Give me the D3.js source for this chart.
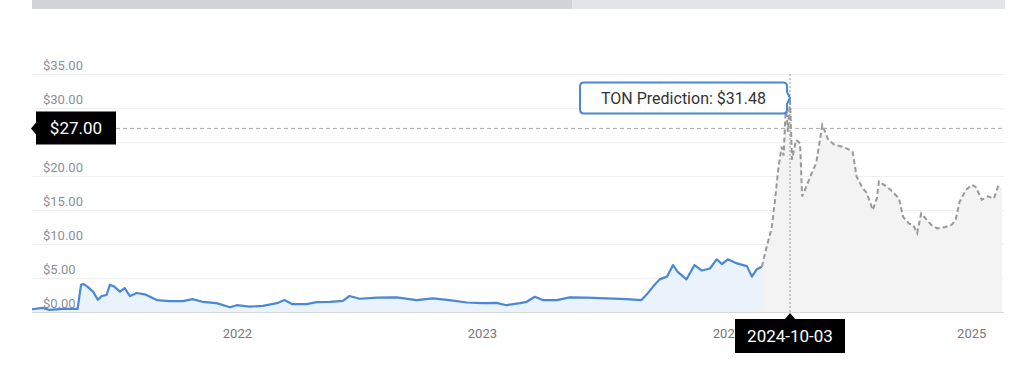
<!DOCTYPE html>
<html>
<head>
<meta charset="utf-8">
<script src="https://cdn.jsdelivr.net/npm/d3@7"></script>
<style>
  body { margin: 0; background: #fff; }
  svg { display: block; font-family: Roboto, "Noto Sans", sans-serif; }
</style>
</head>
<body>
<div id="renderer"></div>
<script>
// history (blue line)
var histDates = ['2021-03-01','2021-03-17','2021-03-27','2021-04-16','2021-05-08','2021-05-13','2021-05-17','2021-05-23',
  '2021-05-31','2021-06-07','2021-06-13','2021-06-20','2021-06-25','2021-07-02','2021-07-10','2021-07-17','2021-07-25',
  '2021-08-04','2021-08-16','2021-09-03','2021-09-22','2021-10-12','2021-10-26','2021-11-10','2021-12-01','2021-12-21',
  '2021-12-31','2022-01-19','2022-02-08','2022-03-01','2022-03-12','2022-03-24','2022-04-14','2022-04-29','2022-05-19',
  '2022-06-07','2022-06-17','2022-07-02','2022-07-28','2022-08-26','2022-09-25','2022-10-19','2022-11-13','2022-12-09',
  '2023-01-01','2023-01-22','2023-02-06','2023-02-26','2023-03-08','2023-03-20','2023-04-01','2023-04-22','2023-05-11',
  '2023-06-05','2023-07-05','2023-08-04','2023-08-26','2023-09-03','2023-09-12','2023-09-22','2023-10-03','2023-10-12',
  '2023-10-19','2023-11-01','2023-11-13','2023-11-24','2023-12-06','2023-12-16','2023-12-24','2024-01-03','2024-02-12',
  '2024-03-27','2024-04-18','2024-05-10','2024-06-01'];
var histValues = [0.4,0.6,0.3,0.45,0.45,4.0,4.1,3.7,
  3.0,1.8,2.35,2.5,4.0,3.7,3.0,3.5,2.35,
  2.8,2.6,1.75,1.6,1.6,1.9,1.5,1.3,0.7,
  1.0,0.8,0.9,1.3,1.75,1.15,1.15,1.45,1.5,
  1.65,2.35,1.95,2.1,2.15,1.75,2.0,1.75,1.4,
  1.3,1.35,1.0,1.3,1.5,2.25,1.75,1.75,2.15,
  2.1,2.0,1.9,1.75,2.6,3.7,4.8,5.2,6.9,
  5.9,4.8,6.9,6.1,6.4,7.75,7.05,7.75,7.15,
  6.75,5.2,6.3,6.65];

// prediction (grey dashed line)
var predDates = ['2024-06-01','2024-06-22','2024-07-14','2024-07-29','2024-08-12','2024-08-27','2024-09-05','2024-09-15',
  '2024-09-24','2024-10-03','2024-10-04','2024-10-06','2024-10-08','2024-10-09','2024-10-11','2024-10-14','2024-10-16',
  '2024-10-19','2024-10-22','2024-10-25','2024-10-29','2024-11-02','2024-11-03','2024-11-05','2024-11-08','2024-11-10',
  '2024-11-13','2024-11-15','2024-11-16','2024-11-20','2024-11-22','2024-11-26','2024-11-28','2024-12-01','2024-12-03',
  '2024-12-05','2024-12-07','2024-12-09','2024-12-12','2024-12-15','2024-12-19','2024-12-22','2024-12-24','2024-12-26',
  '2024-12-29','2025-01-01','2025-01-03','2025-01-06','2025-01-09','2025-01-12','2025-01-14','2025-01-16'];
var predValues = [6.65,9.6,12.3,16.5,20.9,24.3,23.0,30.7,
  26.5,31.48,22.4,25.3,24.8,17.0,18.4,20.6,21.9,
  27.5,25.3,24.6,24.3,23.8,23.6,19.9,18.2,17.5,
  15.0,16.7,19.2,18.4,17.9,16.7,14.0,13.0,12.8,
  11.6,14.5,13.8,12.8,12.3,12.5,12.8,13.5,16.2,
  17.9,18.7,18.4,16.5,17.0,16.7,18.4,18.2];

var yTicks = [0, 5, 10, 15, 20, 25, 30, 35];
var xTickYears = ['2022', '2023', '2024', '2025'];

var hoverDate = '2024-10-03';
var hoverValue = 31.48;
var hoverPrice = 27.00;
var tooltipLabel = 'TON Prediction: ';

// x domain breaks (the source chart is not linear in time around the hover point)
var xDomain = ['2021-03-01', '2024-01-01', '2024-10-03', '2025-01-17'];

var width = 1024, height = 366;
var parse = d3.timeParse('%Y-%m-%d');

var svg = d3.select('#renderer').append('svg')
    .attr('width', width)
    .attr('height', height);

var x = d3.scaleTime()
    .domain(xDomain.map(parse))
    .range([32, 727.4, 790, 1004]);
var y = d3.scaleLinear().domain([0, 35]).range([312, 74]);

var hist = histDates.map(function(d, i){ return {date: parse(d), value: histValues[i]}; });
var pred = predDates.map(function(d, i){ return {date: parse(d), value: predValues[i]}; });

// top scroll bar
svg.append('rect').attr('x', 32).attr('y', 0).attr('width', 540).attr('height', 9).attr('fill', '#d2d3d9');
svg.append('rect').attr('x', 572).attr('y', 0).attr('width', 433).attr('height', 9).attr('fill', '#e3e4e9');

// grid
svg.append('g').selectAll('line')
    .data(yTicks.filter(function(d){ return d > 0; }))
    .enter().append('line')
    .attr('x1', 32).attr('x2', 1004)
    .attr('y1', function(d){ return y(d) + 0.5; })
    .attr('y2', function(d){ return y(d) + 0.5; })
    .attr('stroke', '#efefef');

// areas
var area = d3.area()
    .x(function(d){ return x(d.date); })
    .y0(y(0))
    .y1(function(d){ return y(d.value); });
var line = d3.line()
    .x(function(d){ return x(d.date); })
    .y(function(d){ return y(d.value); });

svg.append('path').datum(hist).attr('d', area).attr('fill', '#eaf2fc');
svg.append('path').datum(pred).attr('d', area).attr('fill', '#f3f3f3');

// baseline
svg.append('line')
    .attr('x1', 32).attr('x2', 1004)
    .attr('y1', y(0) + 0.5).attr('y2', y(0) + 0.5)
    .attr('stroke', '#d8d8d8');

var hy = y(hoverPrice);

// y labels (the one under the price box is hidden, as in the source)
svg.append('g').selectAll('text')
    .data(yTicks.filter(function(d){ return Math.abs(y(d) - 4 - hy) > 17; }))
    .enter().append('text')
    .attr('x', 43)
    .attr('y', function(d){ return y(d) - 4; })
    .attr('font-size', 13)
    .attr('fill', '#8b9099')
    .text(function(d){ return '$' + d.toFixed(2); });

// x axis labels
svg.append('g').selectAll('text')
    .data(xTickYears)
    .enter().append('text')
    .attr('x', function(d){ return x(parse(d + '-01-01')); })
    .attr('y', 338)
    .attr('text-anchor', 'middle')
    .attr('font-size', 13)
    .attr('fill', '#777')
    .text(function(d){ return d; });

// lines
svg.append('path').datum(hist).attr('d', line)
    .attr('fill', 'none').attr('stroke', '#4a88d6').attr('stroke-width', 2.2)
    .attr('stroke-linejoin', 'round');
svg.append('path').datum(pred).attr('d', line)
    .attr('fill', 'none').attr('stroke', '#999').attr('stroke-width', 2)
    .attr('stroke-dasharray', '5,3');

// crosshair
var hx = x(parse(hoverDate));
svg.append('line')
    .attr('x1', 116).attr('x2', 1004)
    .attr('y1', hy).attr('y2', hy)
    .attr('stroke', '#aaa').attr('stroke-dasharray', '4,3');
svg.append('line')
    .attr('x1', hx).attr('x2', hx)
    .attr('y1', y(35)).attr('y2', y(0))
    .attr('stroke', '#999').attr('stroke-dasharray', '2,2');

// price label on the left
svg.append('path')
    .attr('d', 'M36,' + (hy - 17) + 'H116V' + (hy + 16) + 'H36V' + (hy + 6) + 'L31,' + hy + 'L36,' + (hy - 6) + 'Z')
    .attr('fill', '#000');
svg.append('text')
    .attr('x', 76).attr('y', hy + 6)
    .attr('text-anchor', 'middle')
    .attr('font-size', 17)
    .attr('fill', '#fff')
    .text('$' + hoverPrice.toFixed(2));

// date label at the bottom
svg.append('path')
    .attr('d', 'M' + (hx - 55) + ',319H' + (hx - 5) + 'L' + hx + ',313L' + (hx + 5) + ',319H' + (hx + 55) + 'V353H' + (hx - 55) + 'Z')
    .attr('fill', '#000');
svg.append('text')
    .attr('x', hx).attr('y', 342)
    .attr('text-anchor', 'middle')
    .attr('font-size', 17)
    .attr('fill', '#fff')
    .text(hoverDate);

// tooltip
var py = y(hoverValue);
var tw = 207, th = 31;
var tx = hx - 3 - tw, ty = py - th / 2;
svg.append('path')
    .attr('d', 'M' + (tx + 4) + ',' + ty + 'H' + (tx + tw - 4) + 'Q' + (tx + tw) + ',' + ty + ' ' + (tx + tw) + ',' + (ty + 4)
      + 'V' + (py - 6) + 'L' + (hx) + ',' + py + 'L' + (tx + tw) + ',' + (py + 6)
      + 'V' + (ty + th - 4) + 'Q' + (tx + tw) + ',' + (ty + th) + ' ' + (tx + tw - 4) + ',' + (ty + th)
      + 'H' + (tx + 4) + 'Q' + tx + ',' + (ty + th) + ' ' + tx + ',' + (ty + th - 4)
      + 'V' + (ty + 4) + 'Q' + tx + ',' + ty + ' ' + (tx + 4) + ',' + ty + 'Z')
    .attr('fill', '#fff')
    .attr('stroke', '#4a88d6')
    .attr('stroke-width', 2);
svg.append('text')
    .attr('x', tx + tw / 2).attr('y', py + 6)
    .attr('text-anchor', 'middle')
    .attr('font-size', 16)
    .attr('fill', '#333')
    .text(tooltipLabel + '$' + hoverValue.toFixed(2));
</script>
</body>
</html>
